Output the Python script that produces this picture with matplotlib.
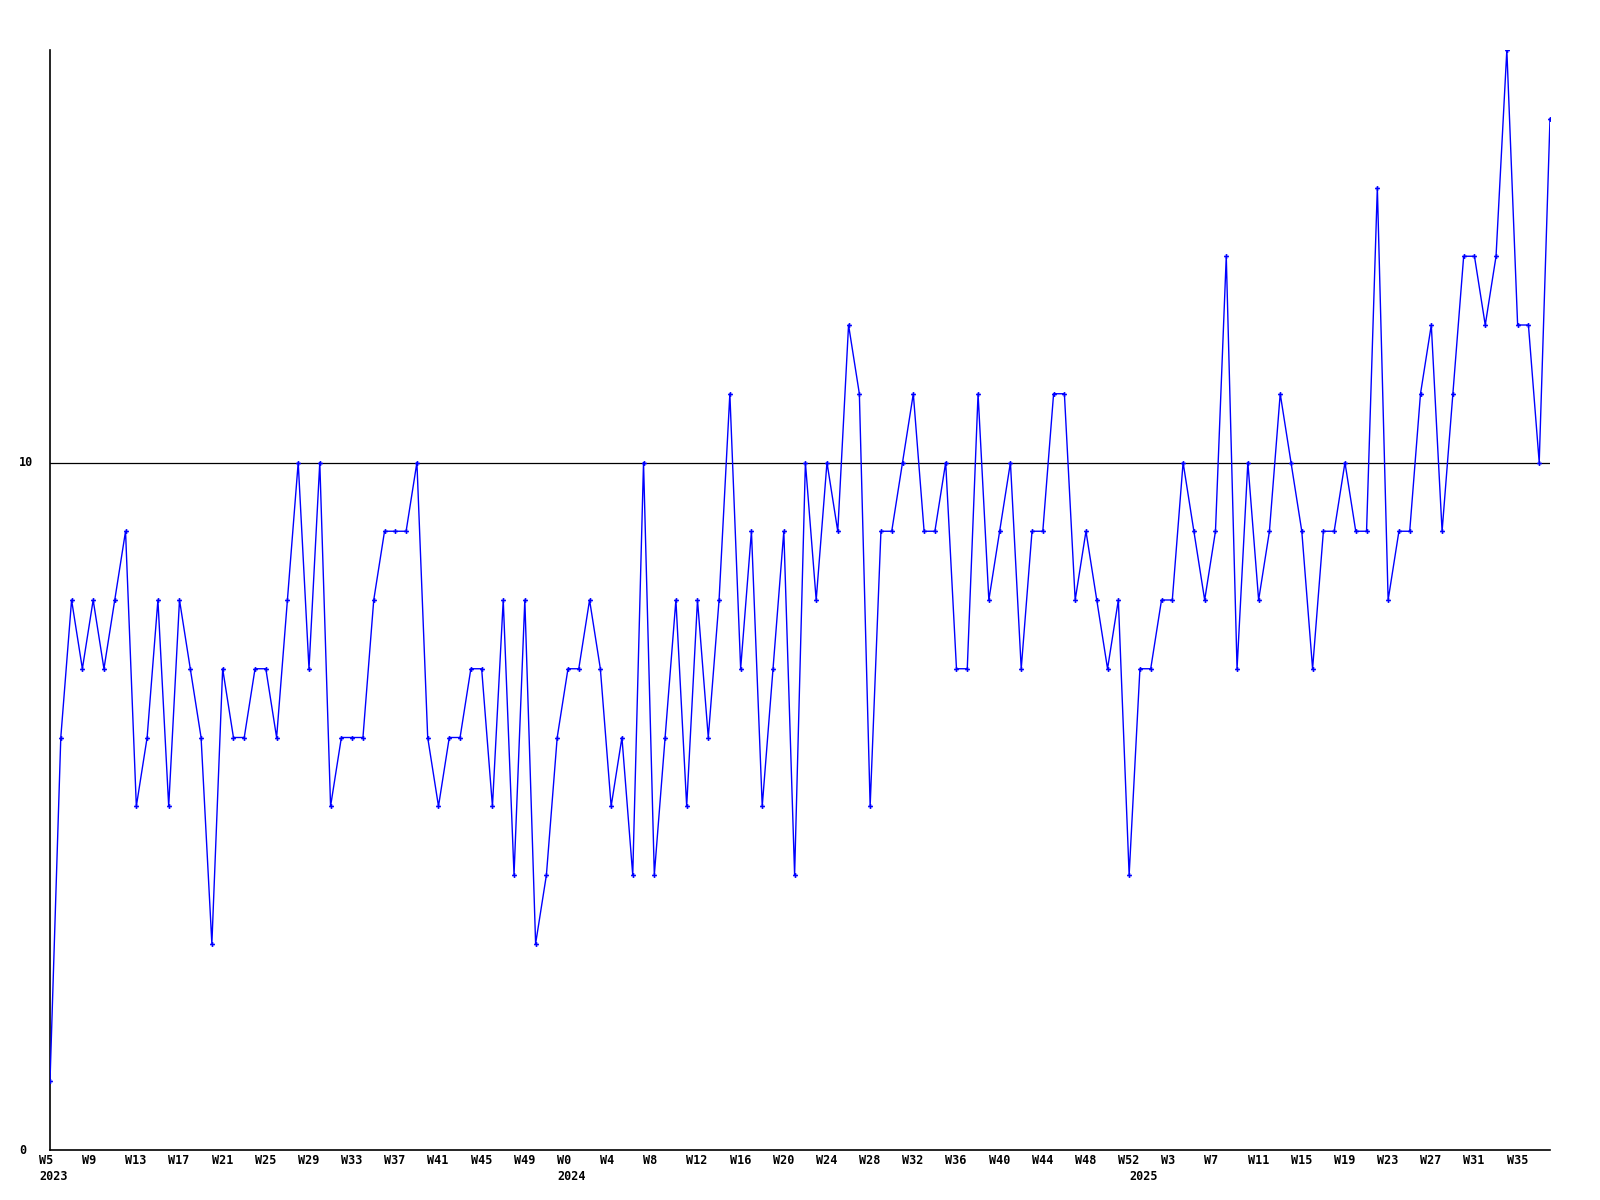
import matplotlib
matplotlib.use("Agg")
import matplotlib.pyplot as plt
import matplotlib.transforms as mtransforms

# Weekly values, 2023 W5 .. 2025 W39 (140 points)
values = [
    1, 6, 8, 7, 8, 7, 8, 9, 5, 6, 8, 5, 8, 7, 6, 3, 7, 6, 6, 7, 7, 6, 8, 10,
    7, 10, 5, 6, 6, 6, 8, 9, 9, 9, 10, 6, 5, 6, 6, 7, 7, 5, 8, 4, 8, 3, 4, 6,
    7, 7, 8, 7, 5, 6, 4, 10, 4, 6, 8, 5, 8, 6, 8, 11, 7, 9, 5, 7, 9, 4, 10, 8,
    10, 9, 12, 11, 5, 9, 9, 10, 11, 9, 9, 10, 7, 7, 11, 8, 9, 10, 7, 9, 9, 11,
    11, 8, 9, 8, 7, 8, 4, 7, 7, 8, 8, 10, 9, 8, 9, 13, 7, 10, 8, 9, 11, 10, 9,
    7, 9, 9, 10, 9, 9, 14, 8, 9, 9, 11, 12, 9, 11, 13, 13, 12, 13, 16, 12, 12,
    10, 15,
]
tick_index = list(range(0, 140, 4))
tick_labels = ["W5", "W9", "W13", "W17", "W21", "W25", "W29", "W33", "W37",
               "W41", "W45", "W49", "W0", "W4", "W8", "W12", "W16", "W20",
               "W24", "W28", "W32", "W36", "W40", "W44", "W48", "W52", "W3",
               "W7", "W11", "W15", "W19", "W23", "W27", "W31", "W35"]
year_index = [0, 48, 101]
year_labels = ["2023", "2024", "2025"]
y_ticks = [0, 10]
ref_level = 10

font = dict(family="DejaVu Sans Mono", fontsize=8.5, fontweight="bold")

fig = plt.figure(figsize=(16, 12), dpi=100)
ax = fig.add_axes([50 / 1600, 50 / 1200, 1500 / 1600, 1100 / 1200])

x = list(range(len(values)))
ax.plot(x, values, color="#0000ff", lw=1.0, marker="P", markersize=3.5,
        markeredgewidth=0, zorder=3)
ax.axhline(ref_level, color="black", lw=0.9, zorder=2)

ax.set_xlim(0, len(values) - 1)
ax.set_ylim(0, 16)
for s in ["top", "right"]:
    ax.spines[s].set_visible(False)
for s in ["left", "bottom"]:
    ax.spines[s].set_linewidth(1.2)
    ax.spines[s].set_color("black")

ax.set_xticks([])
ax.set_yticks([])

shift = mtransforms.ScaledTranslation(-11 / 100, 0, fig.dpi_scale_trans)
trans = mtransforms.blended_transform_factory(ax.transData, ax.transAxes) + shift
for xi, lab in zip(tick_index, tick_labels):
    ax.text(xi, -11 / 1100, lab, transform=trans, ha="left", va="center", **font)
for xi, lab in zip(year_index, year_labels):
    ax.text(xi, -27 / 1100, lab, transform=trans, ha="left", va="center", **font)

ytrans = mtransforms.blended_transform_factory(fig.transFigure, ax.transData)
for v in y_ticks:
    ax.text(19 / 1600, v, str(v), transform=ytrans, ha="left", va="center", **font)

fig.savefig("out.png", dpi=100, facecolor="white")
